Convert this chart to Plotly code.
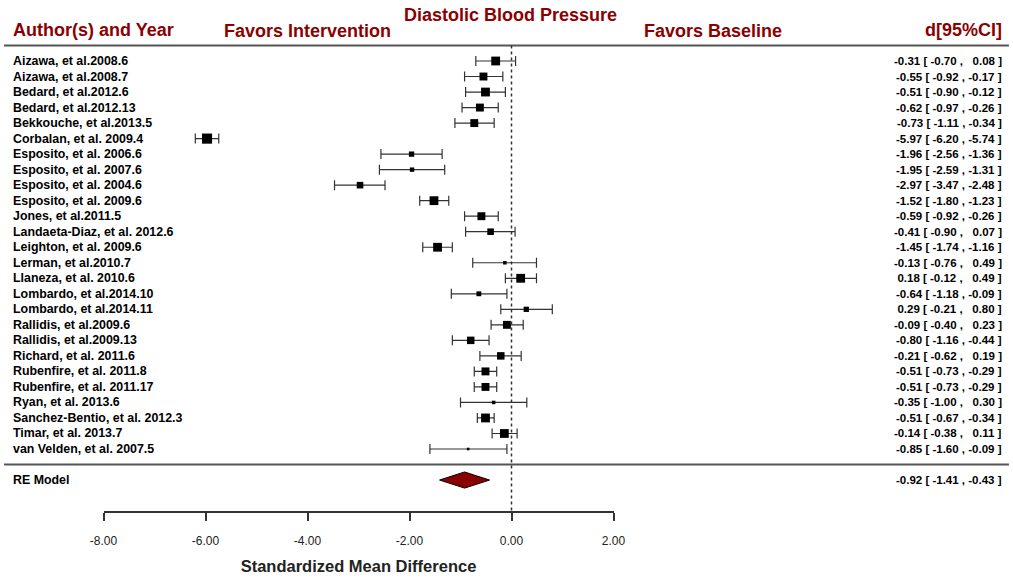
import plotly.graph_objects as go

studies = [
    "Aizawa, et al.2008.6", "Aizawa, et al.2008.7", "Bedard, et al.2012.6",
    "Bedard, et al.2012.13", "Bekkouche, et al.2013.5", "Corbalan, et al. 2009.4",
    "Esposito, et al. 2006.6", "Esposito, et al. 2007.6", "Esposito, et al. 2004.6",
    "Esposito, et al. 2009.6", "Jones, et al.2011.5", "Landaeta-Diaz, et al. 2012.6",
    "Leighton, et al. 2009.6", "Lerman, et al.2010.7", "Llaneza, et al. 2010.6",
    "Lombardo, et al.2014.10", "Lombardo, et al.2014.11", "Rallidis, et al.2009.6",
    "Rallidis, et al.2009.13", "Richard, et al. 2011.6", "Rubenfire, et al. 2011.8",
    "Rubenfire, et al. 2011.17", "Ryan, et al. 2013.6", "Sanchez-Bentio, et al. 2012.3",
    "Timar, et al. 2013.7", "van Velden, et al. 2007.5",
]
est = [-0.31, -0.55, -0.51, -0.62, -0.73, -5.97, -1.96, -1.95, -2.97, -1.52, -0.59, -0.41, -1.45,
       -0.13, 0.18, -0.64, 0.29, -0.09, -0.80, -0.21, -0.51, -0.51, -0.35, -0.51, -0.14, -0.85]
lo = [-0.70, -0.92, -0.90, -0.97, -1.11, -6.20, -2.56, -2.59, -3.47, -1.80, -0.92, -0.90, -1.74,
      -0.76, -0.12, -1.18, -0.21, -0.40, -1.16, -0.62, -0.73, -0.73, -1.00, -0.67, -0.38, -1.60]
hi = [0.08, -0.17, -0.12, -0.26, -0.34, -5.74, -1.36, -1.31, -2.48, -1.23, -0.26, 0.07, -1.16,
      0.49, 0.49, -0.09, 0.80, 0.23, -0.44, 0.19, -0.29, -0.29, 0.30, -0.34, 0.11, -0.09]
weights = [4.0, 3.6, 4.0, 3.6, 3.6, 4.6, 2.4, 2.0, 3.0, 4.0, 3.6, 3.0, 4.0, 1.6, 4.0, 2.2, 2.4,
           3.6, 3.4, 3.4, 3.6, 3.6, 1.6, 4.0, 4.0, 1.2]
re_label = "RE Model"
re_est, re_lo, re_hi = -0.92, -1.41, -0.43
x_ticks = [-8, -6, -4, -2, 0, 2]

DARKRED = "#8B0000"
FONT = "Liberation Sans, Arial, sans-serif"
W, H = 1013, 578
k = len(studies)
rows = list(range(k))
re_row = k + 1
top_px = 61
spacing = (449 - top_px) / (k - 1)
axis_px = 511
y_top = -top_px / spacing
y_bot = (axis_px - top_px) / spacing
x_left_px, x_right_px = 103.5, 613.5

def fmt(v):
    s = f"{v:.2f}"
    return ("\u00a0\u00a0" + s) if v >= 0 else s

fig = go.Figure()

# confidence interval whiskers
fig.add_trace(go.Scatter(
    x=est, y=rows, mode="markers",
    marker=dict(size=1, color="rgba(0,0,0,0)"),
    error_x=dict(type="data", symmetric=False,
                 array=[h - e for h, e in zip(hi, est)],
                 arrayminus=[e - l for e, l in zip(est, lo)],
                 color="#333333", thickness=1.2, width=5),
    hoverinfo="skip", showlegend=False, cliponaxis=False,
))
# weighted squares on top
fig.add_trace(go.Scatter(
    x=est, y=rows, mode="markers",
    marker=dict(symbol="square", size=[w * 2.2 for w in weights], color="black",
                opacity=1, line=dict(width=0)),
    hoverinfo="skip", showlegend=False, cliponaxis=False,
))

dh = 0.52
fig.add_trace(go.Scatter(
    x=[re_lo, re_est, re_hi, re_est, re_lo],
    y=[re_row, re_row - dh, re_row, re_row + dh, re_row],
    mode="lines", fill="toself", fillcolor=DARKRED,
    line=dict(color="black", width=1), hoverinfo="skip", showlegend=False,
))

shapes = []
for yy in (-1, k):
    shapes.append(dict(type="line", xref="paper", yref="y", x0=0.004, x1=0.996, y0=yy, y1=yy,
                       line=dict(color="#555555", width=2)))
shapes.append(dict(type="line", xref="x", yref="y", x0=0, x1=0, y0=-1, y1=y_bot,
                   line=dict(color="#333333", width=1.5, dash="dot")))
fig.update_layout(shapes=shapes)

lfont = dict(family=FONT, size=12.4, color="black")
rfont = dict(family=FONT, size=11.5, color="black")
ann = []
for i, name in enumerate(studies + [re_label]):
    r = rows[i] if i < k else re_row
    ann.append(dict(x=11 / W, xref="paper", y=r, yref="y", text=f"<b>{name}</b>", showarrow=False,
                    xanchor="left", yanchor="middle", font=lfont))
for i in range(k + 1):
    if i < k:
        e, l, h, r = est[i], lo[i], hi[i], rows[i]
    else:
        e, l, h, r = re_est, re_lo, re_hi, re_row
    txt = f"<b>{fmt(e)} [ {fmt(l)} , {fmt(h)} ]</b>"
    ann.append(dict(x=1004 / W, xref="paper", y=r, yref="y", text=txt, showarrow=False,
                    xanchor="right", yanchor="middle", font=rfont))

hfont = dict(family=FONT, size=18, color=DARKRED)
ann.append(dict(x=11 / W, xref="paper", y=1 - 30 / H, yref="paper", text="<b>Author(s) and Year</b>",
                showarrow=False, xanchor="left", yanchor="middle", font=hfont))
ann.append(dict(x=307 / W, xref="paper", y=1 - 31 / H, yref="paper", text="<b>Favors Intervention</b>",
                showarrow=False, xanchor="center", yanchor="middle", font=hfont))
ann.append(dict(x=511 / W, xref="paper", y=1 - 15 / H, yref="paper", text="<b>Diastolic Blood Pressure</b>",
                showarrow=False, xanchor="center", yanchor="middle", font=hfont))
ann.append(dict(x=713 / W, xref="paper", y=1 - 31 / H, yref="paper", text="<b>Favors Baseline</b>",
                showarrow=False, xanchor="center", yanchor="middle", font=hfont))
ann.append(dict(x=1004 / W, xref="paper", y=1 - 30 / H, yref="paper", text="<b>d[95%CI]</b>",
                showarrow=False, xanchor="right", yanchor="middle", font=hfont))
fig.update_layout(annotations=ann)

fig.update_layout(
    width=W, height=H, margin=dict(l=0, r=0, t=0, b=0, autoexpand=False),
    paper_bgcolor="white", plot_bgcolor="white",
    xaxis=dict(domain=[x_left_px / W, x_right_px / W], range=[-8, 2], automargin=False,
               tickvals=x_ticks, ticktext=[f"{v:.2f}" for v in x_ticks],
               showgrid=False, zeroline=False, showline=True, linecolor="#333333", linewidth=1.5,
               ticks="outside", ticklen=8, tickwidth=1.5, tickcolor="#333333",
               ticklabelstandoff=10,
               tickfont=dict(family=FONT, size=12, color="#222222"),
               title=dict(text="<b>Standardized Mean Difference</b>", standoff=13,
                          font=dict(family=FONT, size=16.5, color="#222222"))),
    yaxis=dict(domain=[1 - axis_px / H, 1], range=[y_bot, y_top], visible=False,
               automargin=False, showgrid=False, zeroline=False),
)

fig.write_html("out.html")
